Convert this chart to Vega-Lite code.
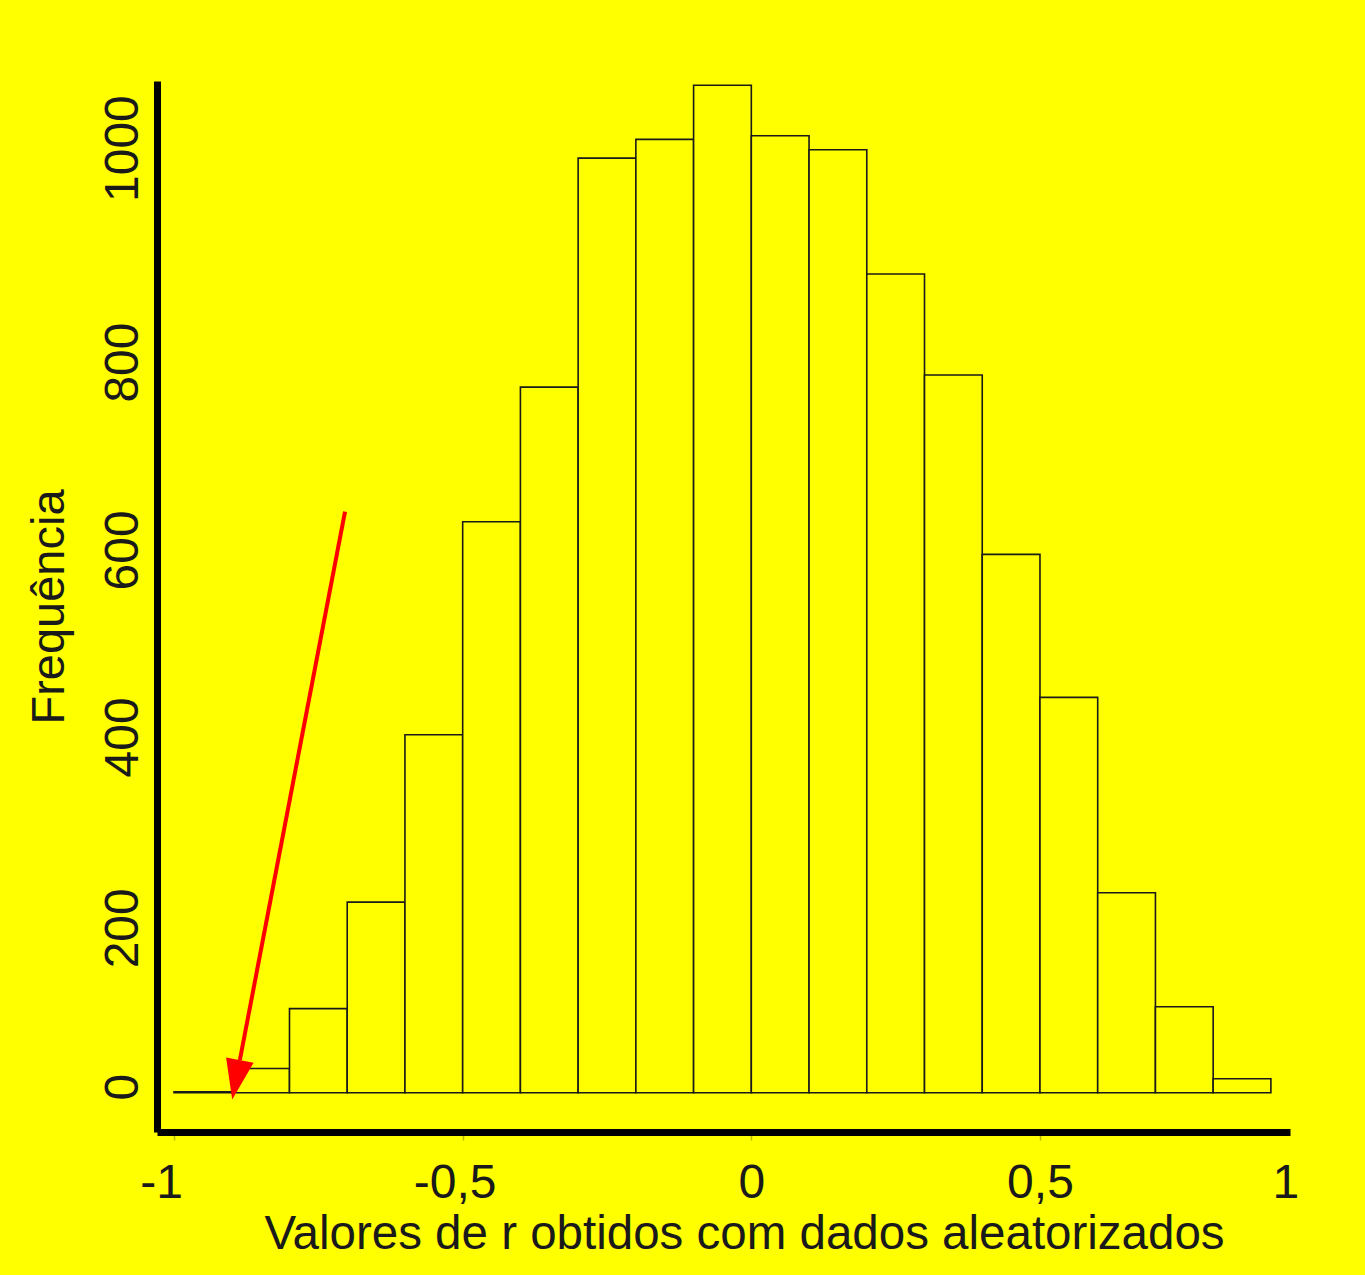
{
  "$schema": "https://vega.github.io/schema/vega-lite/v6.json",
  "autosize": {"type": "none"},
  "width": 1133,
  "height": 1051,
  "padding": {"left": 157, "top": 81, "right": 75, "bottom": 143},
  "background": "#FFFF00",
  "config": {
    "view": {"stroke": null},
    "font": "Liberation Sans"
  },
  "datasets": {
    "bins": [
      {"lo": -1.0, "hi": -0.9, "count": 1},
      {"lo": -0.9, "hi": -0.8, "count": 26},
      {"lo": -0.8, "hi": -0.7, "count": 90},
      {"lo": -0.7, "hi": -0.6, "count": 204},
      {"lo": -0.6, "hi": -0.5, "count": 383},
      {"lo": -0.5, "hi": -0.4, "count": 611},
      {"lo": -0.4, "hi": -0.3, "count": 755},
      {"lo": -0.3, "hi": -0.2, "count": 1000},
      {"lo": -0.2, "hi": -0.1, "count": 1020},
      {"lo": -0.1, "hi": 0.0, "count": 1078},
      {"lo": 0.0, "hi": 0.1, "count": 1024},
      {"lo": 0.1, "hi": 0.2, "count": 1009},
      {"lo": 0.2, "hi": 0.3, "count": 876},
      {"lo": 0.3, "hi": 0.4, "count": 768},
      {"lo": 0.4, "hi": 0.5, "count": 576},
      {"lo": 0.5, "hi": 0.6, "count": 423},
      {"lo": 0.6, "hi": 0.7, "count": 214},
      {"lo": 0.7, "hi": 0.8, "count": 92},
      {"lo": 0.8, "hi": 0.9, "count": 15}
    ],
    "arrow": [
      {"x0": -0.7038, "y0": 621.7, "x1": -0.886, "y1": 35, "hx": -0.8926, "hy": 13.9}
    ]
  },
  "layer": [
    {
      "data": {"name": "bins"},
      "mark": {"type": "bar", "fill": "#FFFF00", "stroke": "#1a1a1a", "strokeWidth": 1.6},
      "encoding": {
        "x": {
          "field": "lo", "type": "quantitative",
          "scale": {"domain": [-1.0295, 0.9331], "nice": false, "zero": false},
          "axis": {
            "values": [-1, -0.5, 0, 0.5, 0.925],
            "labelExpr": "datum.value == -1 ? '-1' : datum.value == -0.5 ? '-0,5' : datum.value == 0 ? '0' : datum.value == 0.5 ? '0,5' : '1'",
            "labelOffset": {"condition": [{"test": "datum.value == -1", "value": -13}, {"test": "datum.value == -0.5", "value": -8}], "value": 0},
            "tickOpacity": {"condition": {"test": "datum.value > 0.9", "value": 0}, "value": 1},
            "domainColor": "#000000", "domainWidth": 7,
            "ticks": true, "tickSize": 8, "tickColor": "#b8b800", "tickWidth": 1.5,
            "grid": false,
            "labelFontSize": 48, "labelColor": "#1a1a1a", "labelFont": "Liberation Sans",
            "labelBaseline": "alphabetic", "labelPadding": 57, "labelAlign": "center",
            "labelFlush": false, "labelOverlap": false,
            "title": "Valores de r obtidos com dados aleatorizados",
            "titleFontSize": 47.5, "titleFontWeight": "normal", "titleColor": "#1a1a1a", "titleFont": "Liberation Sans",
            "titleBaseline": "alphabetic", "titleAlign": "center", "titleX": 587, "titleY": 116
          }
        },
        "x2": {"field": "hi"},
        "y": {
          "field": "count", "type": "quantitative",
          "scale": {"domain": [-42, 1082.5], "nice": false, "zero": false},
          "axis": {
            "values": [0, 200, 400, 600, 800, 1000],
            "format": "d",
            "domainColor": "#000000", "domainWidth": 7,
            "ticks": false, "tickSize": 0, "grid": false,
            "labelAngle": 270, "labelAlign": "center", "labelBaseline": "alphabetic",
            "labelPadding": 20, "labelFontSize": 48, "labelColor": "#1a1a1a", "labelFont": "Liberation Sans",
            "labelFlush": false, "labelOverlap": false,
            "labelOffset": {"condition": [
              {"test": "datum.value == 0", "value": -6},
              {"test": "datum.value == 200", "value": 22},
              {"test": "datum.value == 400", "value": 18},
              {"test": "datum.value == 600", "value": 18},
              {"test": "datum.value == 800", "value": 17},
              {"test": "datum.value == 1000", "value": -10}
            ], "value": 0},
            "title": "Frequência",
            "titleFontSize": 47, "titleFontWeight": "normal", "titleColor": "#1a1a1a", "titleFont": "Liberation Sans",
            "titleAngle": 270, "titleBaseline": "alphabetic", "titleAlign": "center",
            "titleX": -94, "titleY": 525.5
          }
        },
        "y2": {"datum": 0}
      }
    },
    {
      "data": {"name": "arrow"},
      "mark": {"type": "rule", "color": "#FF0000", "strokeWidth": 4},
      "encoding": {
        "x": {"field": "x0", "type": "quantitative"},
        "y": {"field": "y0", "type": "quantitative"},
        "x2": {"field": "x1"},
        "y2": {"field": "y1"}
      }
    },
    {
      "data": {"name": "arrow"},
      "mark": {"type": "point", "shape": "M-0.7,-1L0.7,-1L0,1Z", "filled": true, "color": "#FF0000", "opacity": 1, "size": 1600, "angle": 11, "strokeWidth": 0},
      "encoding": {
        "x": {"field": "hx", "type": "quantitative"},
        "y": {"field": "hy", "type": "quantitative"}
      }
    }
  ]
}
